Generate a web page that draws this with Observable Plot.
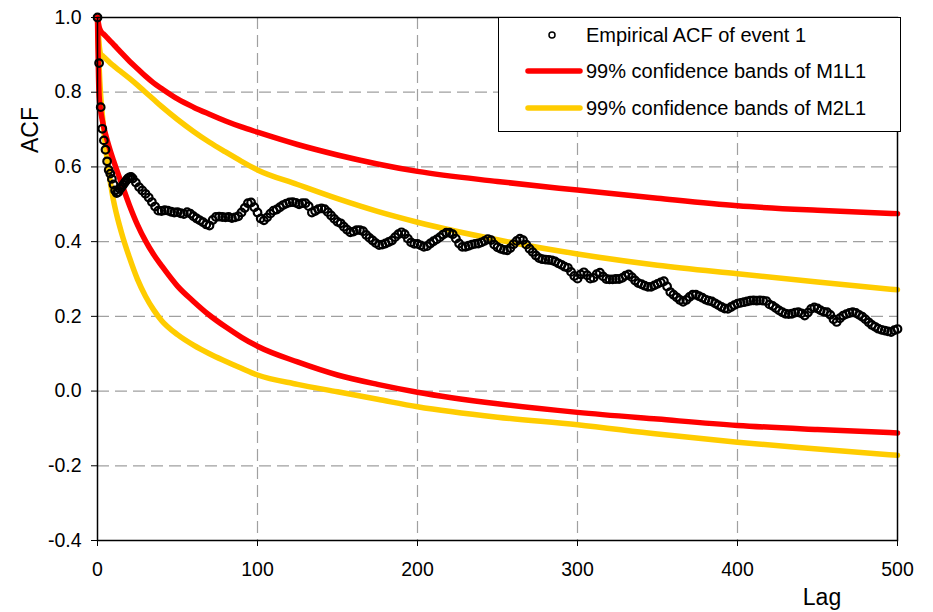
<!DOCTYPE html>
<html>
<head>
<meta charset="utf-8">
<script src="https://cdn.jsdelivr.net/npm/d3@7"></script>
<script src="https://cdn.jsdelivr.net/npm/@observablehq/plot@0.6"></script>
<style>
  html, body { margin: 0; padding: 0; background: #fff; }
  #chart { width: 933px; height: 612px; }
</style>
</head>
<body>
<div id="chart"></div>
<script>
// ---- Data ----
const xTicks = [0, 100, 200, 300, 400, 500];
const yTicks = [-0.4, -0.2, 0.0, 0.2, 0.4, 0.6, 0.8, 1.0];

// lags of the confidence-band curves
const bandLags = [0, 1, 2, 3, 4, 6, 8, 10, 12, 15, 20, 25, 30, 35, 40, 50, 60, 70, 80, 90,
  100, 125, 150, 175, 200, 250, 300, 350, 400, 450, 500];
const m1l1Upper = [1.0, 0.975, 0.964, 0.958, 0.955, 0.946, 0.937, 0.928, 0.919, 0.905, 0.883, 0.863, 0.843, 0.825, 0.810, 0.782, 0.760, 0.741, 0.723, 0.707,
  0.693, 0.660, 0.632, 0.608, 0.588, 0.561, 0.538, 0.516, 0.496, 0.484, 0.475];
const m1l1Lower = [1.0, 0.79, 0.75, 0.725, 0.705, 0.672, 0.643, 0.617, 0.592, 0.556, 0.497, 0.445, 0.402, 0.366, 0.336, 0.281, 0.240, 0.203, 0.172, 0.144,
  0.120, 0.078, 0.043, 0.018, -0.003, -0.034, -0.057, -0.075, -0.092, -0.103, -0.112];
const m2l1Upper = [1.0, 0.93, 0.902, 0.898, 0.894, 0.886, 0.878, 0.871, 0.864, 0.854, 0.837, 0.819, 0.800, 0.781, 0.762, 0.727, 0.695, 0.666, 0.640, 0.615,
  0.592, 0.553, 0.515, 0.481, 0.452, 0.405, 0.367, 0.337, 0.314, 0.292, 0.271];
const m2l1Lower = [1.0, 0.87, 0.79, 0.74, 0.695, 0.62, 0.56, 0.51, 0.472, 0.424, 0.357, 0.299, 0.254, 0.218, 0.189, 0.151, 0.123, 0.100, 0.080, 0.061,
  0.043, 0.018, -0.002, -0.022, -0.042, -0.070, -0.090, -0.115, -0.137, -0.155, -0.172];

// empirical ACF: lags 0..21 every lag, then every 2nd lag to 500
const acfLags = d3.range(0, 22).concat(d3.range(22, 501, 2));
const acfValues = [
  1.0, 0.878, 0.76, 0.702, 0.671, 0.646, 0.615, 0.592, 0.582, 0.568, 0.553, 0.537, 0.530, 0.533, 0.541, 0.546, 0.552, 0.558, 0.564, 0.569, 0.572, 0.573,
  0.569, 0.558, 0.546, 0.537, 0.528,
  0.518, 0.506, 0.494, 0.483, 0.482,
  0.484, 0.483, 0.480, 0.478, 0.479,
  0.476, 0.474, 0.479, 0.475, 0.468,
  0.462, 0.457, 0.452, 0.446, 0.443,
  0.458, 0.466, 0.467, 0.466, 0.465,
  0.466, 0.463, 0.465, 0.468, 0.478,
  0.490, 0.503, 0.505, 0.492, 0.478,
  0.462, 0.457, 0.465, 0.475, 0.483,
  0.486, 0.492, 0.498, 0.502, 0.505,
  0.506, 0.504, 0.500, 0.503, 0.503,
  0.495, 0.478, 0.482, 0.487, 0.489,
  0.487, 0.479, 0.470, 0.461, 0.453,
  0.449, 0.440, 0.432, 0.425, 0.427,
  0.431, 0.431, 0.428, 0.418, 0.410,
  0.403, 0.396, 0.391, 0.392, 0.395,
  0.399, 0.403, 0.412, 0.420, 0.425,
  0.420, 0.408, 0.398, 0.394, 0.394,
  0.390, 0.386, 0.388, 0.395, 0.401,
  0.406, 0.412, 0.419, 0.424, 0.424,
  0.420, 0.408, 0.395, 0.386, 0.386,
  0.389, 0.392, 0.394, 0.395, 0.398,
  0.402, 0.407, 0.404, 0.392, 0.385,
  0.381, 0.378, 0.377, 0.383, 0.393,
  0.402, 0.408, 0.404, 0.392, 0.381,
  0.372, 0.363, 0.356, 0.353, 0.352,
  0.351, 0.350, 0.347, 0.342, 0.338,
  0.333, 0.330, 0.319, 0.308, 0.301,
  0.312, 0.318, 0.310, 0.301, 0.303,
  0.313, 0.317, 0.307, 0.300, 0.299,
  0.299, 0.300, 0.300, 0.303, 0.309,
  0.312, 0.305, 0.296, 0.289, 0.286,
  0.282, 0.279, 0.279, 0.283, 0.287,
  0.291, 0.294, 0.280, 0.265, 0.258,
  0.251, 0.244, 0.239, 0.244, 0.252,
  0.258, 0.258, 0.254, 0.250, 0.245,
  0.242, 0.240, 0.235, 0.230, 0.225,
  0.221, 0.220, 0.225, 0.230, 0.234,
  0.236, 0.238, 0.240, 0.242, 0.243,
  0.242, 0.243, 0.242, 0.241, 0.232,
  0.228, 0.222, 0.216, 0.211, 0.207,
  0.206, 0.207, 0.210, 0.211, 0.208,
  0.202, 0.210, 0.220, 0.224, 0.221,
  0.216, 0.212, 0.211, 0.204, 0.192,
  0.185, 0.195, 0.202, 0.206, 0.209,
  0.211, 0.209, 0.204, 0.199, 0.192,
  0.184, 0.177, 0.172, 0.167, 0.164,
  0.162, 0.160, 0.158, 0.163, 0.166
];

const legendItems = [
  {label: "Empirical ACF of event 1", kind: "dot", color: "black"},
  {label: "99% confidence bands of M1L1", kind: "line", color: "#ff0000"},
  {label: "99% confidence bands of M2L1", kind: "line", color: "#ffcc00"}
];

// ---- Build tables ----
const bands = bandLags.map((lag, i) => ({lag, m1u: m1l1Upper[i], m1l: m1l1Lower[i], m2u: m2l1Upper[i], m2l: m2l1Lower[i]}));
const acf = acfLags.map((lag, i) => ({lag, v: acfValues[i]}));

const FONT = "'Liberation Sans', Arial, Helvetica, sans-serif";
const RED = "#ff0000", YEL = "#ffcc00";
const gridStyle = {stroke: "#a0a0a0", strokeOpacity: 1, strokeWidth: 1.2, strokeDasharray: "12,6"};
const lineStyle = {strokeWidth: 5.5, curve: "monotone-x", strokeLinecap: "round", strokeLinejoin: "round"};

const chart = Plot.plot({
  width: 933,
  height: 612,
  marginLeft: 97,
  marginRight: 36,
  marginTop: 17,
  marginBottom: 72,
  style: {fontFamily: FONT, fontSize: "19.5px", color: "black", background: "white"},
  x: {domain: [0, 500]},
  y: {domain: [-0.4, 1.0]},
  marks: [
    Plot.gridX(xTicks.filter(d => d > 0 && d < 500), gridStyle),
    Plot.gridY(yTicks.filter(d => d > -0.4 && d < 1.0), gridStyle),
    Plot.line(bands, {x: "lag", y: "m2u", stroke: YEL, ...lineStyle}),
    Plot.line(bands, {x: "lag", y: "m2l", stroke: YEL, ...lineStyle}),
    Plot.line(bands, {x: "lag", y: "m1u", stroke: RED, ...lineStyle}),
    Plot.line(bands, {x: "lag", y: "m1l", stroke: RED, ...lineStyle}),
    Plot.dot(acf, {x: "lag", y: "v", r: 3.8, stroke: "black", strokeWidth: 2.2, fill: "none"}),
    Plot.frame({stroke: "black", strokeWidth: 1.5}),
    Plot.axisX(xTicks, {tickSize: 6, tickPadding: 16, tickFormat: d => String(d), label: null, fontSize: 19.5}),
    Plot.axisY(yTicks, {tickSize: 6, tickPadding: 10, tickFormat: d => d.toFixed(1), label: null, fontSize: 19.5})
  ]
});

document.getElementById("chart").appendChild(chart);

// ---- Axis titles and legend ----
const svg = d3.select(chart);
svg.append("text")
  .attr("transform", "translate(38,130) rotate(-90)")
  .attr("text-anchor", "middle")
  .attr("font-family", FONT).attr("font-size", 23).attr("fill", "black")
  .text("ACF");
svg.append("text")
  .attr("x", 822).attr("y", 604.5)
  .attr("text-anchor", "middle")
  .attr("font-family", FONT).attr("font-size", 23).attr("fill", "black")
  .text("Lag");

const lg = svg.append("g").attr("text-anchor", "start");
lg.append("rect").attr("x", 498.5).attr("y", 17.5).attr("width", 402).attr("height", 114)
  .attr("fill", "white").attr("stroke", "black").attr("stroke-width", 1);
const rowY = [35, 71, 108];
legendItems.forEach((item, i) => {
  const y = rowY[i];
  if (item.kind === "dot") {
    lg.append("circle").attr("cx", 552).attr("cy", y).attr("r", 3)
      .attr("fill", "none").attr("stroke", "black").attr("stroke-width", 1.5);
  } else {
    lg.append("line").attr("x1", 528).attr("x2", 580).attr("y1", y).attr("y2", y)
      .attr("stroke", item.color).attr("stroke-width", 5.5).attr("stroke-linecap", "round");
  }
  lg.append("text").attr("x", 586).attr("y", y).attr("dy", "0.35em")
    .attr("text-anchor", "start")
    .attr("font-family", FONT).attr("font-size", 20).attr("fill", "black")
    .text(item.label);
});
</script>
</body>
</html>
